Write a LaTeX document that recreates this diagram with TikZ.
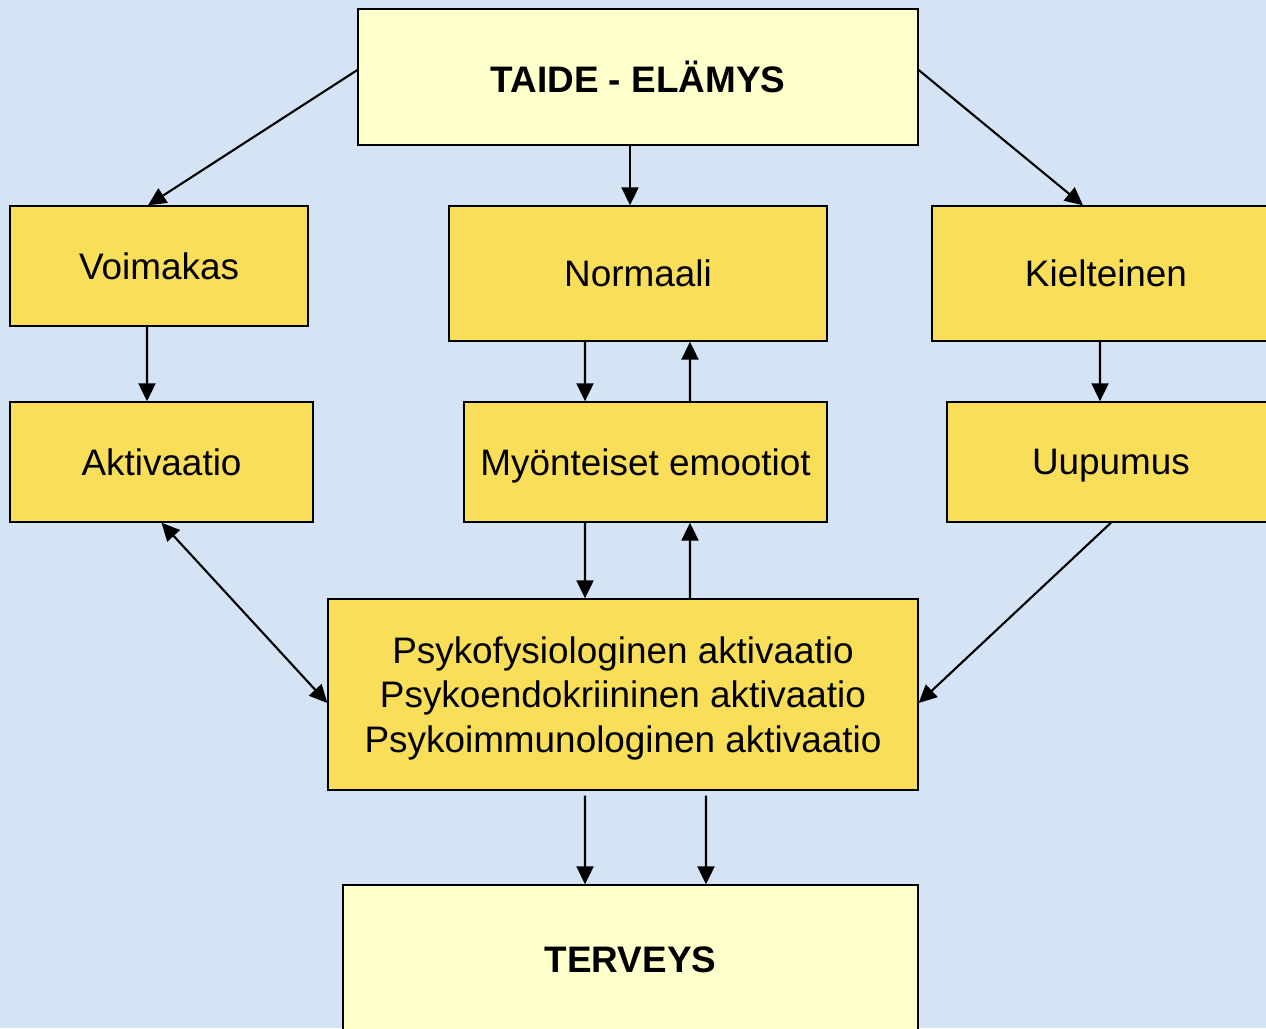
\documentclass[tikz,border=0pt]{standalone}
\usepackage{fontspec}
\setmainfont{Liberation Sans}
\usetikzlibrary{arrows.meta}
\definecolor{taustasin}{RGB}{212,228,244}
\definecolor{vaaleakelt}{RGB}{255,255,204}
\definecolor{keltainen}{RGB}{249,222,89}
\tikzset{
  laatikko/.style={draw=black,line width=0.8pt,fill=keltainen,align=center,
    inner sep=0pt,text depth=0pt,font=\fontsize{21}{25.5}\selectfont},
  paalaatikko/.style={laatikko,fill=vaaleakelt,font=\fontsize{21}{25.5}\selectfont\bfseries},
  nuoli/.style={-{Triangle[length=0.36cm,width=0.34cm]},line width=1.2pt},
  kaksinuoli/.style={{Triangle[length=0.36cm,width=0.34cm]}-{Triangle[length=0.36cm,width=0.34cm]},line width=1.2pt}
}
\begin{document}
\begin{tikzpicture}[x=0.02cm,y=-0.02cm]
	% Tausta
	\useasboundingbox (0,0) rectangle (1266,1028);
	\clip (0,0) rectangle (1266,1028);
	\fill[taustasin] (0,0) rectangle (1266,1028);
	% Laatikot
	\node[paalaatikko,minimum width=11.2cm,minimum height=2.72cm] (taide) at (638,77) {TAIDE - ELÄMYS};
	\node[laatikko,minimum width=5.96cm,minimum height=2.4cm] (voimakas) at (159,266) {Voimakas};
	\node[laatikko,minimum width=7.56cm,minimum height=2.7cm] (normaali) at (638,273.5) {Normaali};
	\node[laatikko,minimum width=6.96cm,minimum height=2.7cm] (kielteinen) at (1106,273.5) {Kielteinen};
	\node[laatikko,minimum width=6.06cm,minimum height=2.4cm] (aktivaatio) at (161.5,462) {Aktivaatio};
	\node[laatikko,minimum width=7.26cm,minimum height=2.4cm] (myonteiset) at (645.5,462) {Myönteiset emootiot};
	\node[laatikko,minimum width=6.56cm,minimum height=2.4cm] (uupumus) at (1111,462) {Uupumus};
	\node[laatikko,minimum width=11.8cm,minimum height=3.82cm] (psyko) at (623,694.5)
		{Psykofysiologinen aktivaatio\\Psykoendokriininen aktivaatio\\Psykoimmunologinen aktivaatio};
	\node[paalaatikko,minimum width=11.5cm,minimum height=3cm] (terveys) at (630.5,960) {TERVEYS};
	% Elämyksestä kolmeen suuntaan
	\draw[nuoli] ([yshift=0.14cm]taide.west) -- ([xshift=-0.22cm]voimakas.north);
	\draw[nuoli] ([xshift=-0.16cm]taide.south) -- ([xshift=-0.16cm]normaali.north);
	\draw[nuoli] ([yshift=0.14cm]taide.east) -- ([xshift=-0.46cm]kielteinen.north);
	% Toinen rivi
	\draw[nuoli] ([xshift=-0.24cm]voimakas.south) -- ([xshift=-0.29cm]aktivaatio.north);
	\draw[nuoli] ([xshift=-1.06cm]normaali.south) -- ([xshift=-1.21cm]myonteiset.north);
	\draw[nuoli] ([xshift=0.89cm]myonteiset.north) -- ([xshift=1.04cm]normaali.south);
	\draw[nuoli] ([xshift=-0.12cm]kielteinen.south) -- ([xshift=-0.22cm]uupumus.north);
	% Aktivaatiolaatikkoon
	\draw[kaksinuoli] (aktivaatio.south) -- ([yshift=-0.17cm]psyko.west);
	\draw[nuoli] ([xshift=-1.21cm]myonteiset.south) -- ([xshift=-0.76cm]psyko.north);
	\draw[nuoli] ([xshift=1.34cm]psyko.north) -- ([xshift=0.89cm]myonteiset.south);
	\draw[nuoli] (uupumus.south) -- ([yshift=-0.17cm]psyko.east);
	% Terveyteen
	\draw[nuoli] ([xshift=-0.76cm,yshift=-0.1cm]psyko.south) -- ([xshift=-0.91cm]terveys.north);
	\draw[nuoli] ([xshift=1.66cm,yshift=-0.1cm]psyko.south) -- ([xshift=1.51cm]terveys.north);
\end{tikzpicture}
\end{document}
